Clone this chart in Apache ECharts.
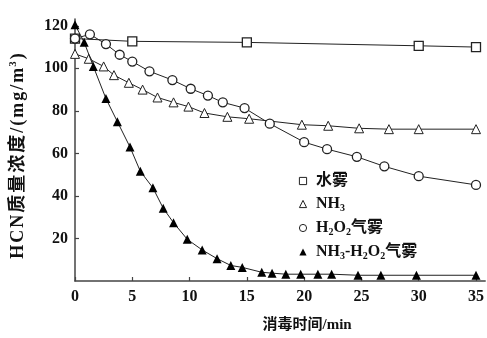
<!DOCTYPE html>
<html>
<head>
<meta charset="utf-8">
<script src="https://cdn.jsdelivr.net/npm/echarts@6/dist/echarts.min.js"></script>
<style>html,body{margin:0;padding:0;background:#fff;}#c{width:487px;height:338px;}</style>
</head>
<body>
<div id="c"></div>
<script>
// ---- data ----
var seriesNames = ['水雾', 'NH3', 'H2O2气雾', 'NH3-H2O2气雾'];
var tWater = [0, 5, 15, 30, 35];
var vWater = [114, 112.7, 112.2, 110.6, 110];
var tNH3 = [0, 1.2, 2.5, 3.4, 4.7, 5.9, 7.2, 8.6, 9.9, 11.3, 13.3, 15.2, 19.8, 22.1, 24.8, 27.4, 30, 35];
var vNH3 = [106.8, 104.5, 100.9, 96.8, 93.2, 90, 86.3, 84, 82, 79, 77.2, 76.3, 73.5, 73, 71.8, 71.4, 71.4, 71.4];
var tH2O2 = [0, 1.3, 2.7, 3.9, 5, 6.5, 8.5, 10.1, 11.6, 12.9, 14.8, 17, 20, 22, 24.6, 27, 30, 35];
var vH2O2 = [114, 116, 111.4, 106.4, 103.2, 98.6, 94.5, 90.4, 87.2, 84, 81.3, 74, 65.3, 62, 58.4, 53.9, 49.3, 45.2];
var tMix = [0, 0.8, 1.6, 2.7, 3.7, 4.8, 5.7, 6.8, 7.7, 8.6, 9.8, 11.1, 12.4, 13.6, 14.6, 16.3, 17.2, 18.4, 19.7, 21.2, 22.4, 24.7, 26.7, 29.8, 35];
var vMix = [120.5, 112.3, 100.9, 85.8, 74.9, 63, 51.6, 43.8, 34.2, 27.4, 19.6, 14.6, 10.5, 7.3, 6.4, 4.1, 3.7, 3.2, 3.2, 3.2, 3.2, 2.7, 2.7, 2.7, 2.7];
var xTicks = [0, 5, 10, 15, 20, 25, 30, 35];
var yTicks = [20, 40, 60, 80, 100, 120];
var xName = '消毒时间/min';
var yNameMain = 'HCN质量浓度/(mg/m';
var yNameSup = '3';
var yNameEnd = ')';

function pairs(t, v) { return t.map(function (x, i) { return [x, v[i]]; }); }

var serif = "'Liberation Serif', 'Noto Sans CJK SC', serif";

// y-axis name as rich text (slightly spaced, superscript 3)
var yNameRich = '';
for (var i = 0; i < yNameMain.length; i++) yNameRich += '{a|' + yNameMain.charAt(i) + '}';
yNameRich += '{s|' + yNameSup + '}{e|' + yNameEnd + '}';
var yRich = {
  a: { fontSize: 18, fontWeight: 'bold', fontFamily: serif, color: '#111', lineHeight: 20, padding: [0, 1, 0, 1] },
  s: { fontSize: 11, fontWeight: 'bold', fontFamily: serif, color: '#111', verticalAlign: 'top', padding: [0, 1, 0, 0] },
  e: { fontSize: 18, fontWeight: 'bold', fontFamily: serif, color: '#111', lineHeight: 20, padding: [0, 13, 0, 1] }
};

var legendRich = {
  t: { fontSize: 16, fontWeight: 'bold', fontFamily: serif, color: '#111', lineHeight: 18 },
  s: { fontSize: 10, fontWeight: 'bold', fontFamily: serif, color: '#111', verticalAlign: 'bottom' }
};
var legendFmt = {
  '水雾': '{t|水雾}',
  'NH3': '{t|NH}{s|3}',
  'H2O2气雾': '{t|H}{s|2}{t|O}{s|2}{t|气雾}',
  'NH3-H2O2气雾': '{t|NH}{s|3}{t|-H}{s|2}{t|O}{s|2}{t|气雾}'
};

var lineCommon = { color: '#222', width: 1 };
var hollow = { color: '#fff', borderColor: '#222', borderWidth: 1.3 };
var chart = echarts.init(document.getElementById('c'), null, { renderer: 'canvas' });
chart.setOption({
  animation: false,
  backgroundColor: '#fff',
  grid: { left: 75, right: 0, top: 19, bottom: 49, containLabel: false },
  xAxis: {
    type: 'value', min: 0, max: 35.8,
    name: xName, nameLocation: 'middle', nameGap: 37,
    nameTextStyle: { fontSize: 15, fontWeight: 'bold', fontFamily: serif, color: '#111', padding: [0, 0, 0, 54] },
    axisLine: { show: true, lineStyle: { color: '#444', width: 1.5 } },
    axisTick: { show: true, inside: true, length: 4, customValues: xTicks, lineStyle: { color: '#444', width: 1.2 } },
    axisLabel: { customValues: xTicks, fontSize: 16, fontWeight: 'bold', fontFamily: serif, color: '#111', margin: 8 },
    splitLine: { show: false }
  },
  yAxis: {
    type: 'value', min: 0, max: 123.2,
    name: yNameRich, nameLocation: 'middle', nameGap: 47, nameRotate: 90,
    nameTextStyle: { rich: yRich },
    axisLine: { show: true, lineStyle: { color: '#444', width: 1.5 } },
    axisTick: { show: true, inside: true, length: 4, customValues: yTicks, lineStyle: { color: '#444', width: 1.2 } },
    axisLabel: { customValues: yTicks, fontSize: 16, fontWeight: 'bold', fontFamily: serif, color: '#111', margin: 7 },
    splitLine: { show: false }
  },
  legend: {
    orient: 'vertical', left: 289, top: 168, itemWidth: 16, itemHeight: 9, itemGap: 7,
    data: seriesNames,
    lineStyle: { opacity: 0 },
    itemStyle: { borderWidth: 1 },
    formatter: function (n) { return legendFmt[n]; },
    textStyle: { rich: legendRich }
  },
  series: [
    { name: seriesNames[0], type: 'line', data: pairs(tWater, vWater), symbol: 'rect', symbolSize: 9,
      lineStyle: lineCommon, itemStyle: hollow, z: 3 },
    { name: seriesNames[1], type: 'line', data: pairs(tNH3, vNH3), symbol: 'triangle', symbolSize: 9,
      lineStyle: lineCommon, itemStyle: { color: '#fff', borderColor: '#222', borderWidth: 1 }, z: 2 },
    { name: seriesNames[2], type: 'line', data: pairs(tH2O2, vH2O2), symbol: 'circle', symbolSize: 9,
      lineStyle: lineCommon, itemStyle: hollow, z: 4 },
    { name: seriesNames[3], type: 'line', data: pairs(tMix, vMix), symbol: 'triangle', symbolSize: 9,
      lineStyle: lineCommon, itemStyle: { color: '#000' }, z: 5 }
  ]
});
</script>
</body>
</html>
